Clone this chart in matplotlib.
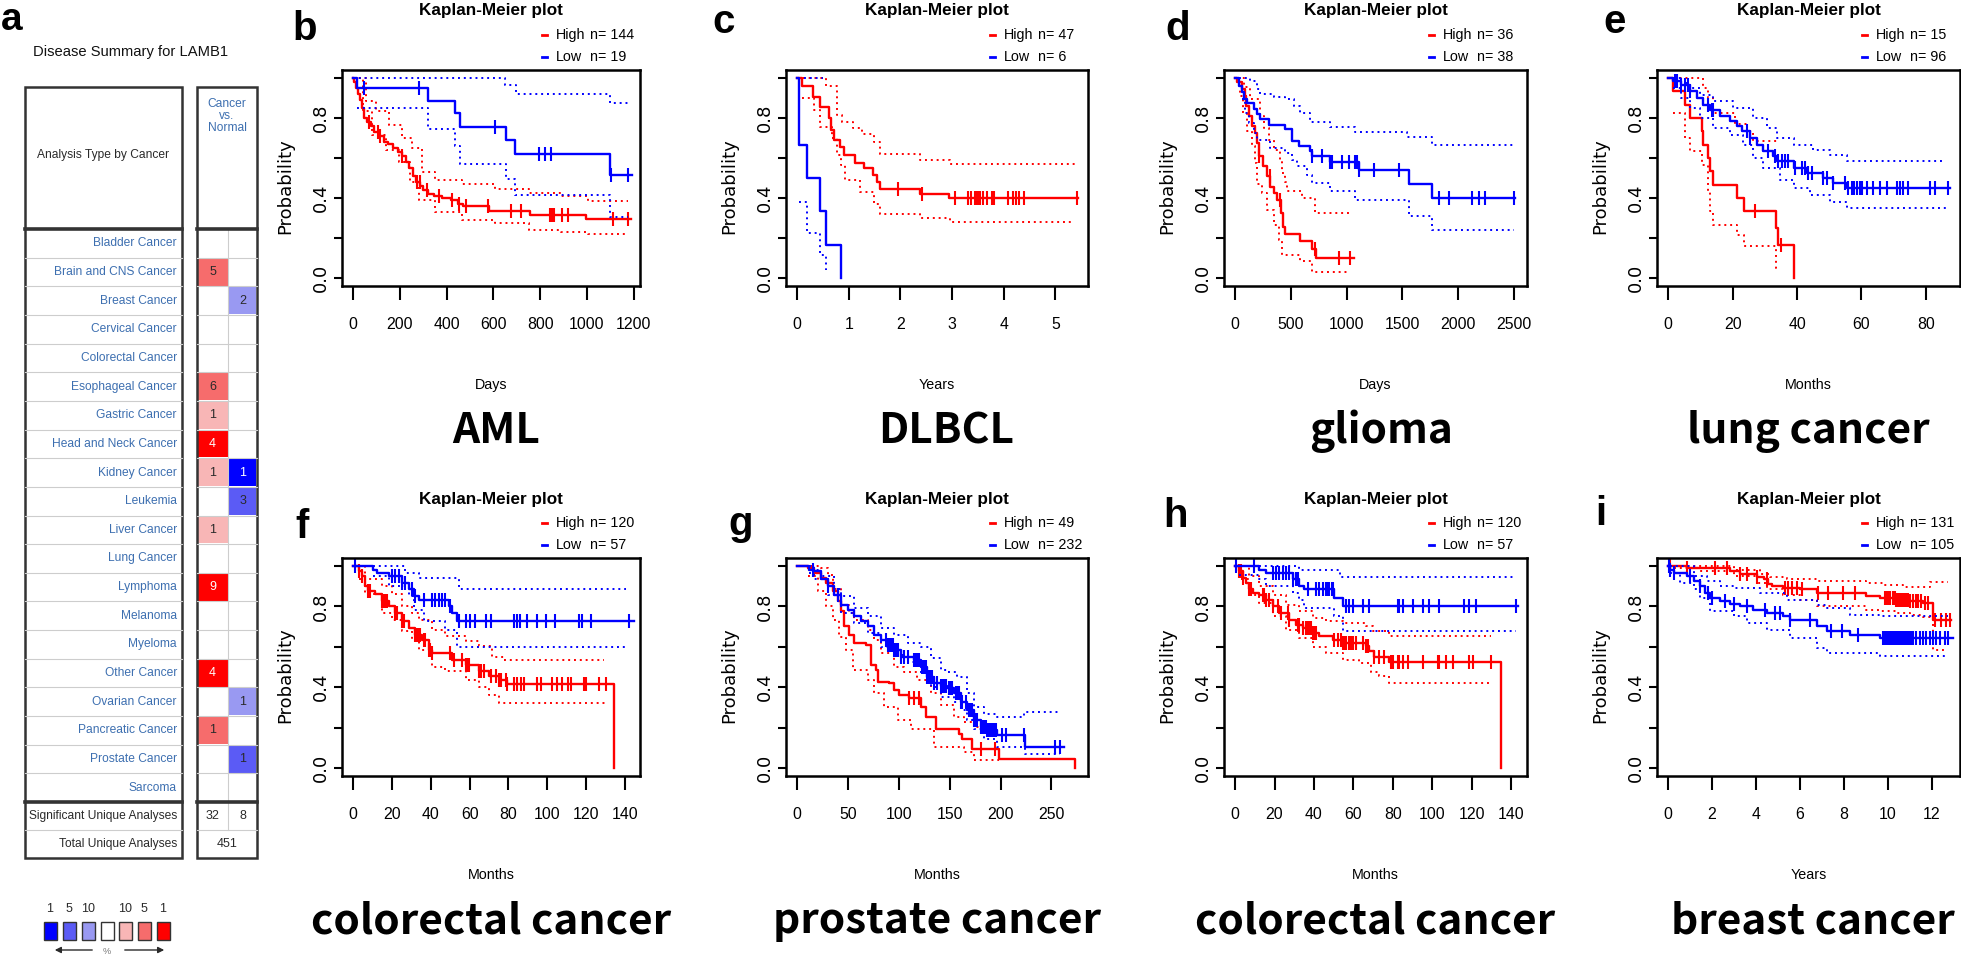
import numpy as np
import matplotlib
matplotlib.use('Agg')
import matplotlib.pyplot as plt
from matplotlib import font_manager
from matplotlib.patches import Rectangle
from matplotlib.lines import Line2D

W, H = 1961, 958
RED, BLUE = '#ff0000', '#0000ff'

_fonts = {f.name for f in font_manager.fontManager.ttflist}
NARROW = 'Liberation Sans Narrow' if 'Liberation Sans Narrow' in _fonts else 'Liberation Sans'
NS = 1.0 if NARROW == 'Liberation Sans Narrow' else 0.82
BIG = 'Noto Sans CJK SC'

# ---------------- panel a: Oncomine disease summary ----------------
cancers = ['Bladder Cancer', 'Brain and CNS Cancer', 'Breast Cancer', 'Cervical Cancer',
           'Colorectal Cancer', 'Esophageal Cancer', 'Gastric Cancer', 'Head and Neck Cancer',
           'Kidney Cancer', 'Leukemia', 'Liver Cancer', 'Lung Cancer', 'Lymphoma', 'Melanoma',
           'Myeloma', 'Other Cancer', 'Ovarian Cancer', 'Pancreatic Cancer', 'Prostate Cancer',
           'Sarcoma']
up_counts = [0, 5, 0, 0, 0, 6, 1, 4, 1, 0, 1, 0, 9, 0, 0, 4, 0, 1, 0, 0]
up_rank = [0, 5, 0, 0, 0, 5, 10, 1, 10, 0, 10, 0, 1, 0, 0, 1, 0, 5, 0, 0]
down_counts = [0, 0, 2, 0, 0, 0, 0, 0, 1, 3, 0, 0, 0, 0, 0, 0, 1, 0, 1, 0]
down_rank = [0, 0, 10, 0, 0, 0, 0, 0, 1, 5, 0, 0, 0, 0, 0, 0, 10, 0, 5, 0]
sig_up, sig_down, total_analyses = 32, 8, 451
legend_blue = [1, 5, 10]
legend_red = [10, 5, 1]
RED_SHADE = {1: '#ff0000', 5: '#f66c6c', 10: '#f8b6b6'}
BLUE_SHADE = {1: '#0000ff', 5: '#5b5bf5', 10: '#9999f2'}

# ---------------- KM curves: (time, survival) step points ----------------
# b  AML (days)
b_high = [(0, 1.0), (5, .98), (12, .95), (20, .92), (28, .89), (38, .85), (48, .80), (60, .78),
          (75, .76), (90, .73), (110, .71), (130, .68), (150, .67), (170, .65), (190, .63),
          (210, .61), (225, .58), (240, .55), (255, .51), (270, .48), (285, .46), (300, .44),
          (320, .42), (345, .41), (380, .40), (420, .39), (450, .37), (470, .36), (580, .335),
          (757, .315), (998, .293), (1190, .293)]
b_high_up = [(0, 1.0), (54, .886), (97, .835), (153, .767), (210, .70), (253, .65), (295, .53),
             (352, .49), (465, .47), (607, .443), (750, .426), (891, .409), (1005, .383), (1176, .383)]
b_high_lo = [(0, 1.0), (40, .835), (82, .715), (139, .64), (196, .58), (245, .48), (281, .39),
             (352, .33), (465, .29), (607, .273), (750, .238), (891, .23), (1005, .22), (1176, .22)]
b_high_cens = [68, 104, 114, 210, 274, 284, 317, 366, 423, 452, 483, 577, 676, 719, 842, 849,
               859, 892, 920, 1112, 1176]
b_low = [(0, 1.0), (18, .95), (321, .886), (435, .823), (459, .756), (655, .69), (693, .622),
         (1100, .516), (1193, .516)]
b_low_up = [(0, 1.0), (650, .963), (696, .92), (1100, .877), (1176, .877)]
b_low_lo = [(18, .85), (321, .746), (435, .66), (459, .57), (655, .494), (693, .417),
            (1100, .307), (1176, .307)]
b_low_cens = [47, 281, 608, 797, 821, 846, 1105, 1176]

# c  DLBCL (years)
c_high = [(0, 1.0), (0.1, .96), (0.3, .905), (0.45, .855), (0.61, .80), (0.66, .74), (0.71, .69),
          (0.82, .656), (0.9, .615), (1.12, .573), (1.3, .548), (1.47, .515), (1.54, .48),
          (1.61, .445), (2.38, .42), (2.94, .40), (5.43, .40)]
c_high_up = [(0, 1.0), (0.55, .96), (0.77, .814), (0.87, .78), (1.09, .75), (1.25, .72),
             (1.48, .68), (1.61, .62), (2.38, .59), (2.96, .568), (5.43, .568)]
c_high_lo = [(0.1, .90), (0.32, .84), (0.45, .756), (0.67, .70), (0.77, .615), (0.84, .565),
             (0.93, .49), (1.22, .43), (1.49, .37), (1.61, .32), (2.38, .30), (2.96, .28), (5.36, .28)]
c_high_cens = [1.96, 2.42, 3.05, 3.31, 3.37, 3.44, 3.47, 3.50, 3.53, 3.60, 3.68, 3.78, 3.82,
               4.08, 4.18, 4.23, 4.29, 4.40, 5.42]
c_low = [(0, 1.0), (0.03, .667), (0.2, .5), (0.45, .333), (0.55, .167), (0.84, 0.0)]
c_low_up = [(0.13, 1.0), (0.5, 1.0)]
c_low_lo = [(0.03, .38), (0.2, .224), (0.45, .116), (0.55, .04), (0.56, .04)]
c_low_cens = []

# d  glioma (days)
d_high = [(0, 1.0), (15, .978), (60, .945), (90, .91), (99, .86), (120, .81), (150, .76),
          (180, .726), (195, .676), (210, .612), (246, .558), (285, .508), (315, .457),
          (345, .424), (375, .39), (411, .323), (429, .255), (444, .222), (585, .185),
          (690, .146), (729, .099), (1064, .099)]
d_high_up = [(15, 1.0), (81, .953), (135, .894), (225, .81), (255, .75), (300, .69), (345, .642),
             (399, .59), (420, .524), (444, .482), (465, .435), (600, .398), (720, .323), (1019, .323)]
d_high_lo = [(15, .978), (45, .91), (75, .827), (105, .735), (150, .66), (180, .575), (195, .47),
             (240, .424), (285, .34), (345, .264), (390, .188), (420, .113), (585, .087),
             (690, .029), (1034, .029)]
d_high_cens = [210, 309, 405, 720, 929, 1034]
d_low = [(0, 1.0), (39, .96), (60, .93), (81, .894), (105, .874), (165, .844), (195, .82),
         (225, .797), (300, .763), (444, .743), (510, .684), (570, .662), (669, .634),
         (690, .608), (855, .58), (1109, .538), (1559, .47), (1769, .40), (2510, .40)]
d_low_up = [(39, 1.0), (135, .987), (195, .945), (225, .92), (345, .907), (450, .894),
            (525, .86), (585, .827), (675, .78), (855, .756), (1079, .73), (1544, .704),
            (1769, .664), (2500, .664)]
d_low_lo = [(60, .894), (90, .827), (120, .776), (165, .726), (195, .69), (315, .65), (450, .625),
            (510, .59), (555, .558), (645, .516), (690, .474), (855, .437), (1079, .39),
            (1559, .31), (1769, .239), (2500, .239)]
d_low_cens = [690, 780, 855, 870, 960, 1019, 1079, 1094, 1109, 1244, 1469, 1829, 1919, 2128,
              2188, 2239, 2500]

# e  lung cancer (months)
e_high = [(0, 1.0), (1.55, .933), (5.2, .867), (6.9, .80), (10.4, .733), (10.9, .667),
          (12.4, .60), (12.9, .533), (14, .467), (21.2, .40), (23.6, .333), (33.5, .25),
          (34.2, .167), (39.2, 0.0)]
e_high_up = [(0, 1.0), (10.9, .95), (12.4, .9), (14, .825), (20.7, .77), (24.3, .733),
             (26.4, .683), (33.7, .683)]
e_high_lo = [(1.55, .825), (5.2, .70), (6.9, .633), (10.4, .567), (12.4, .433), (12.9, .333),
             (14, .267), (21.2, .217), (23.6, .158), (33.5, .05), (34.5, .05)]
e_high_cens = [26.9, 35.0]
e_low = [(0, 1.0), (1.55, .983), (4.1, .963), (6.7, .933), (8.8, .9), (10.9, .867), (12.9, .842),
         (16.1, .808), (19.2, .783), (21.2, .758), (22.8, .733), (25.4, .70), (27.5, .667),
         (29.5, .633), (32.6, .608), (33.7, .583), (38.9, .55), (43, .525), (48.2, .50),
         (51.3, .475), (55.4, .45), (87.5, .45)]
e_low_up = [(1.55, 1.0), (4.1, .975), (6.7, .95), (9.8, .917), (14, .883), (20.2, .85),
            (26.4, .80), (30.6, .75), (33.7, .70), (38.9, .667), (45.1, .642), (50.3, .617),
            (55.4, .587), (86, .587)]
e_low_lo = [(1.55, .95), (4.1, .9), (6.7, .85), (9.8, .8), (14, .75), (19.2, .717), (23.3, .667),
            (26.4, .6), (29.5, .55), (34.7, .49), (38.9, .45), (44, .417), (50.3, .38),
            (55.4, .35), (87, .35)]
e_low_cens = [2.1, 2.6, 4.1, 5.2, 6.2, 6.7, 12.4, 13.5, 14, 24.3, 25.4, 31.1, 33.2, 34.2, 35.2,
              36.3, 37.3, 39.4, 41.4, 42.5, 43.5, 44.5, 48.2, 49.2, 51.3, 54.9, 55.9, 57, 57.7,
              58.5, 59.4, 60.1, 61.6, 63.7, 65.8, 67.9, 71, 72, 73, 74.3, 81.3, 82.9, 87]

# f  colorectal cancer (months)
f_high = [(0, 1.0), (2.8, .975), (4.5, .95), (6.2, .9), (7.9, .876), (11.4, .86), (14.8, .826),
          (18.3, .80), (21.7, .768), (25.1, .726), (28.6, .693), (32, .66), (35.5, .635),
          (38.9, .585), (40.6, .57), (51, .536), (57.9, .51), (64.7, .478), (69.9, .453),
          (75.1, .436), (79.4, .416), (134.5, 0.0)]
f_high_up = [(0, 1.0), (6.2, .934), (14.8, .9), (20, .86), (25.1, .8), (30.3, .768), (33.8, .735),
             (40.6, .685), (47.5, .652), (57.9, .627), (64.7, .602), (71.6, .552), (77.5, .536),
             (129.2, .536)]
f_high_lo = [(2.8, .934), (6.2, .86), (14.8, .768), (20, .735), (25.1, .677), (30.3, .635),
             (33.8, .585), (40.6, .502), (47.5, .478), (57.9, .436), (64.7, .403), (69.9, .36),
             (75.1, .323), (130.2, .323)]
f_high_cens = [2.8, 4.5, 7.9, 8.8, 14.8, 15.7, 16.5, 17.4, 21.7, 22.6, 25.1, 26, 32, 32.9, 33.8,
               34.6, 36.3, 37.2, 38.9, 39.8, 40.6, 50.1, 51.8, 56.1, 57.9, 58.7, 59.6, 64.7, 65.6,
               67.3, 70.8, 73.4, 75.1, 75.9, 78.5, 79.4, 82.8, 84.6, 86.3, 88, 94.9, 96.6, 102.6,
               105.2, 107.8, 110.4, 112.1, 119, 119.9, 126.7, 130.2]
f_low = [(0, 1.0), (10.5, .983), (12.2, .967), (18.3, .95), (25.1, .917), (28.6, .884),
         (31.2, .85), (33.8, .83), (49.2, .80), (51, .768), (53.6, .726), (144.8, .726)]
f_low_up = [(10.5, 1.0), (26.9, .967), (33.8, .942), (54.4, .884), (140.5, .884)]
f_low_lo = [(10.5, .95), (18.3, .9), (28.6, .85), (31.2, .784), (36.3, .726), (47.5, .685),
            (53.6, .597), (141.3, .597)]
f_low_cens = [1, 20, 21.7, 23.4, 25.1, 26.9, 30.3, 32, 36.3, 40.6, 42.4, 44.1, 45.8, 47.5, 50.1,
              54.4, 57.9, 60.4, 63, 68.2, 70.8, 82.8, 84.6, 85.8, 89.7, 94.9, 99.2, 104, 116.4,
              118.1, 122.4, 142.2]

# g  prostate cancer (months)
g_high = [(0, 1.0), (10.5, .992), (17, .967), (23.5, .942), (28.4, .917), (35, .875),
          (39.9, .826), (43.1, .776), (46.4, .701), (51.3, .659), (56.2, .618), (67.6, .61),
          (72.5, .51), (77.5, .485), (79.1, .427), (90.5, .419), (95.4, .385), (100.3, .36),
          (110.1, .344), (121.6, .302), (126.5, .252), (136.3, .194), (159.2, .169),
          (162.4, .145), (172.2, .095), (198.4, .045), (273.5, 0.0)]
g_high_up = [(7.2, 1.0), (23.5, .992), (30.1, .958), (35, .884), (43.1, .809), (51.3, .767),
             (56.2, .734), (69.3, .684), (75.8, .635), (82.3, .568), (95.4, .502), (105.2, .477),
             (118.3, .435), (131.4, .369), (141.2, .31), (154.2, .252), (164.1, .228),
             (173.9, .203), (196.7, .203)]
g_high_lo = [(10.5, .95), (20.3, .875), (28.4, .8), (35, .734), (41.5, .651), (48, .585),
             (54.6, .485), (69.3, .435), (75.8, .369), (85.6, .302), (98.7, .236), (111.8, .194),
             (134.6, .103), (164.1, .078), (173.9, .037), (198.4, .037)]
g_high_cens = [110.1, 115, 120, 180.4, 194.1]
g_low = [(0, 1.0), (12.1, .983), (17, .975), (23.5, .934), (30.1, .9), (36.6, .859), (43.1, .809),
         (49.7, .784), (56.2, .751), (62.7, .726), (69.3, .701), (75.8, .659), (82.3, .635),
         (88.9, .61), (95.4, .585), (101.9, .551), (115, .535), (121.6, .502), (128.1, .452),
         (134.6, .419), (141.2, .405), (147.7, .394), (154.2, .369), (160.8, .327),
         (167.3, .286), (173.9, .236), (180.4, .203), (186.9, .186), (196.7, .161),
         (224.5, .103), (262, .103)]
g_low_up = [(12.1, 1.0), (17, .983), (23.5, .95), (36.6, .884), (43.1, .85), (56.2, .792),
            (69.3, .751), (82.3, .693), (95.4, .659), (108.5, .618), (121.6, .601), (131.4, .543),
            (141.2, .485), (147.7, .477), (157.5, .452), (167.3, .369), (173.9, .302),
            (183.7, .269), (196.7, .252), (222.9, .277), (258.8, .277)]
g_low_lo = [(12.1, .967), (17, .934), (30.1, .859), (43.1, .767), (56.2, .718), (69.3, .668),
            (82.3, .601), (95.4, .56), (108.5, .527), (121.6, .468), (131.4, .402), (141.2, .352),
            (154.2, .327), (160.8, .286), (167.3, .236), (173.9, .194), (183.7, .145),
            (196.7, .103), (224.5, .07), (258.8, .07)]
g_low_cens = [15.4, 30.1, 39.9, 87.3, 88.9, 90.5, 92.2, 93.8, 95.4, 97.1, 98.7, 102, 105.2, 108.5,
              115, 116.7, 118.3, 119.9, 123.2, 124.8, 126.5, 128.1, 129.7, 131.4, 133, 134.6,
              137.9, 141.2, 142.8, 144.4, 146.1, 149.3, 151, 152.6, 155.9, 157.5, 159.2, 160.8,
              162.4, 165.7, 169, 170.6, 172.2, 173.9, 175.5, 177.1, 180.4, 182, 183.7, 185.3,
              186.9, 188.6, 190.2, 191.8, 193.5, 195.1, 201.6, 204.9, 222.9, 253.9, 258.8]

# h  colorectal cancer (months)
h_high = [(0, 1.0), (2.2, .975), (3.9, .942), (5.6, .917), (7.3, .884), (9, .867), (12.3, .859),
          (15.7, .834), (19.1, .80), (22.5, .768), (27.5, .735), (30.9, .71), (34.3, .693),
          (39.4, .668), (42.8, .655), (49.5, .635), (54.6, .619), (66.4, .602), (68.1, .577),
          (70.6, .552), (78.2, .527), (134.9, 0.0)]
h_high_up = [(2.2, 1.0), (7.3, .95), (12.3, .9), (19.1, .859), (25.9, .809), (32.6, .776),
             (39.4, .743), (46.1, .726), (54.6, .718), (66.4, .701), (69.8, .677), (78.2, .655),
             (129.8, .655)]
h_high_lo = [(3, .934), (7.3, .859), (12.3, .816), (19.1, .751), (25.9, .685), (32.6, .643),
             (39.4, .6), (46.1, .569), (54.6, .536), (63, .519), (68.9, .476), (73.2, .453),
             (78.2, .42), (129.8, .42)]
h_high_cens = [2.2, 3, 3.9, 7.3, 8.1, 14, 14.9, 15.7, 17.4, 19.1, 21.6, 23.3, 26.7, 27.5, 31.8,
               32.6, 34.3, 36, 36.8, 37.7, 38.5, 39.4, 40.2, 41.1, 50.4, 52.1, 53.7, 54.6, 55.4,
               56.3, 58, 58.8, 59.7, 61.3, 64.7, 66.4, 67.3, 70.6, 73.2, 75.7, 79.1, 79.9, 82.5,
               83.3, 85, 87.5, 95.1, 102.8, 103.6, 107, 110.4, 118.8, 120.5, 129.8]
h_low = [(0, 1.0), (12.3, .983), (15.7, .967), (29.2, .934), (32.6, .9), (35.2, .884),
         (50.4, .842), (54.6, .80), (143.3, .80)]
h_low_up = [(12.3, 1.0), (32.6, .983), (53.2, .947), (142.5, .947)]
h_low_lo = [(2.2, .958), (12.3, .934), (15.7, .9), (29.2, .867), (32.6, .834), (35.2, .793),
            (50.4, .751), (54.6, .677), (142.5, .677)]
h_low_cens = [0.5, 9.8, 19.1, 20.8, 22.5, 24.2, 25.9, 27.5, 29.2, 30.9, 31.8, 36.8, 41.1, 42.8,
              44.4, 46.1, 47, 47.8, 49.2, 49.9, 56.3, 58, 59.7, 64.7, 68.1, 82.5, 83.3, 85, 90.1,
              95.1, 98.5, 103.6, 116.3, 118.8, 122.2, 142.5]

# i  breast cancer (years)
i_high = [(0, 1.0), (0.86, .992), (2.83, .975), (3.28, .959), (4.03, .947), (4.34, .934),
          (4.56, .909), (4.71, .9), (5.24, .892), (6.0, .884), (6.75, .867), (9.02, .851),
          (9.63, .842), (10.38, .834), (10.99, .826), (11.59, .816), (12.04, .735), (12.87, .735)]
i_high_up = [(0.11, 1.0), (2.98, .983), (4.18, .959), (4.64, .947), (5.39, .934), (6.75, .926),
             (9.02, .914), (9.78, .904), (10.68, .897), (11.89, .922), (12.72, .922)]
i_high_lo = [(0.26, .99), (1.47, .975), (2.98, .95), (4.03, .917), (4.49, .884), (5.24, .859),
             (6.0, .834), (6.75, .804), (9.02, .784), (9.63, .776), (10.38, .768), (10.99, .759),
             (11.59, .75), (12.04, .585), (12.65, .585)]
i_high_cens = [0.11, 0.86, 2.15, 2.67, 3.28, 3.58, 4.03, 4.49, 5.32, 5.47, 5.62, 5.85, 6.07, 6.83,
               7.28, 7.96, 8.49, 9.85, 9.93, 10, 10.08, 10.23, 10.31, 10.38, 10.46, 10.53, 10.61,
               10.68, 10.76, 10.83, 10.91, 10.99, 11.14, 11.29, 11.36, 11.51, 11.66, 11.82,
               12.12, 12.42, 12.65, 12.8]
i_low = [(0, 1.0), (0.1, .983), (0.26, .967), (0.86, .95), (1.16, .926), (1.47, .9), (1.69, .867),
         (1.92, .842), (2.37, .826), (2.83, .814), (3.28, .801), (3.88, .784), (4.49, .768),
         (5.24, .751), (5.55, .735), (6.75, .701), (7.21, .677), (8.27, .66), (9.63, .643),
         (12.95, .643)]
i_low_up = [(0.1, 1.0), (1.16, .95), (1.77, .926), (2.37, .9), (2.98, .892), (4.18, .867),
            (5.39, .834), (6.75, .809), (7.21, .793), (8.27, .759), (9.63, .751), (12.72, .751)]
i_low_lo = [(0.1, .967), (0.56, .917), (1.16, .884), (1.47, .842), (1.92, .776), (2.98, .751),
            (3.58, .718), (4.49, .685), (5.55, .643), (6.75, .592), (7.21, .569), (9.63, .556),
            (12.65, .556)]
i_low_cens = [0.03, 0.11, 0.26, 1.01, 1.47, 1.84, 1.99, 2.6, 2.98, 3.58, 4.41, 4.87, 5.09, 5.55,
              6.45, 7.43, 7.93, 8.64, 9.78, 9.85, 9.93, 10.0, 10.08, 10.16, 10.23, 10.31, 10.38,
              10.46, 10.53, 10.61, 10.68, 10.76, 10.83, 10.91, 10.99, 11.06, 11.14, 11.29, 11.44,
              11.59, 11.74, 11.89, 12.04, 12.19, 12.34, 12.57, 12.72]

n_high = {'b': 144, 'c': 47, 'd': 36, 'e': 15, 'f': 120, 'g': 49, 'h': 120, 'i': 131}
n_low = {'b': 19, 'c': 6, 'd': 38, 'e': 96, 'f': 57, 'g': 232, 'h': 57, 'i': 105}

# ---------------- layout (pixels) ----------------
COLS = [(342, 640), (786, 1088), (1224, 1527), (1657, 1960)]
ROWS = [(70, 286), (558, 776)]

fig = plt.figure(figsize=(W / 100, H / 100), dpi=100)
fig.patch.set_facecolor('white')


def ftext(x, y, s, **kw):
    return fig.text(x / W, 1 - y / H, s, **kw)


def draw_group(ax, curve, up, lo, cens, color):
    t, s = map(np.array, zip(*curve))
    for band in (up, lo):
        bt, bs = zip(*band)
        ax.step(bt, bs, where='post', color=color, lw=1.4, ls=(0, (1, 2)))
    ax.step(t, s, where='post', color=color, lw=1.7)
    if cens:
        ct = np.array(cens)
        cy = s[np.searchsorted(t, ct, side='right') - 1]
        ax.plot(ct, cy, ls='none', marker='|', ms=10, mew=1.5, color=color)


def km_panel(key, col, row, letter_xy, label, unit, xlim, xticks, high, low, label_dx=0):
    x0, x1 = COLS[col]
    y0, y1 = ROWS[row]
    ax = fig.add_axes([x0 / W, 1 - y1 / H, (x1 - x0) / W, (y1 - y0) / H])
    draw_group(ax, *high, RED)
    draw_group(ax, *low, BLUE)
    ax.set_xlim(*xlim)
    ax.set_ylim(-0.04, 1.04)
    ax.set_xticks(xticks)
    ax.set_xticklabels([str(v) for v in xticks], family=NARROW, fontsize=14 * NS)
    ax.set_yticks([0, 0.2, 0.4, 0.6, 0.8, 1.0])
    ax.set_yticklabels(['0.0', '', '0.4', '', '0.8', ''], family='DejaVu Sans', fontsize=13,
                       rotation=90, va='center')
    ax.tick_params(axis='x', length=10, width=1.5, pad=12)
    ax.tick_params(axis='y', length=6, width=1.5, pad=3)
    for sp in ax.spines.values():
        sp.set_linewidth(1.8)
    cx = (x0 + x1) / 2
    ftext(x0 - 57, (y0 + y1) / 2 + 8, 'Probability', rotation=90, ha='center', va='center',
          family='DejaVu Sans', fontsize=13)
    ftext(cx, y0 - 59, 'Kaplan-Meier plot', ha='center', va='center', family=NARROW,
          fontweight='bold', fontsize=15 * NS)
    for dy, name, n, color in ((35, 'High', n_high[key], RED), (13, 'Low', n_low[key], BLUE)):
        yy = 1 - (y0 - dy) / H
        fig.add_artist(Line2D([(x1 - 98) / W, (x1 - 93) / W], [yy, yy], color=color, lw=2))
        ftext(x1 - 84, y0 - dy, name, va='center', family=NARROW, fontsize=12.5 * NS)
        ftext(x1 - 50, y0 - dy, 'n= %d' % n, va='center', family=NARROW, fontsize=12.5 * NS)
    ftext(cx, y1 + 99, unit, ha='center', va='center', family=NARROW, fontsize=12.5 * NS)
    ftext(cx + label_dx, y1 + 157, label, ha='center', va='baseline', family=BIG,
          fontweight='bold', fontsize=30.5)
    ftext(letter_xy[0], letter_xy[1], key, va='baseline', family='Liberation Sans',
          fontweight='bold', fontsize=29)


km_panel('b', 0, 0, (292, 40), 'AML', 'Days', (-48, 1227), list(range(0, 1201, 200)),
         (b_high, b_high_up, b_high_lo, b_high_cens), (b_low, b_low_up, b_low_lo, b_low_cens), 5)
km_panel('c', 1, 0, (712, 33), 'DLBCL', 'Years', (-0.216, 5.63), [0, 1, 2, 3, 4, 5],
         (c_high, c_high_up, c_high_lo, c_high_cens), (c_low, c_low_up, c_low_lo, c_low_cens), 9)
km_panel('d', 2, 0, (1165, 40), 'glioma', 'Days', (-100, 2620), list(range(0, 2501, 500)),
         (d_high, d_high_up, d_high_lo, d_high_cens), (d_low, d_low_up, d_low_lo, d_low_cens), 6)
km_panel('e', 3, 0, (1603, 33), 'lung cancer', 'Months', (-3.5, 90.6), [0, 20, 40, 60, 80],
         (e_high, e_high_up, e_high_lo, e_high_cens), (e_low, e_low_up, e_low_lo, e_low_cens))
km_panel('f', 0, 1, (295, 538), 'colorectal cancer', 'Months', (-5.7, 147.7),
         list(range(0, 141, 20)),
         (f_high, f_high_up, f_high_lo, f_high_cens), (f_low, f_low_up, f_low_lo, f_low_cens))
km_panel('g', 1, 1, (728, 535), 'prostate cancer', 'Months', (-11, 286), list(range(0, 251, 50)),
         (g_high, g_high_up, g_high_lo, g_high_cens), (g_low, g_low_up, g_low_lo, g_low_cens))
km_panel('h', 2, 1, (1163, 527), 'colorectal cancer', 'Months', (-5.6, 148),
         list(range(0, 141, 20)),
         (h_high, h_high_up, h_high_lo, h_high_cens), (h_low, h_low_up, h_low_lo, h_low_cens))
km_panel('i', 3, 1, (1595, 525), 'breast cancer', 'Years', (-0.5, 13.27), list(range(0, 13, 2)),
         (i_high, i_high_up, i_high_lo, i_high_cens), (i_low, i_low_up, i_low_lo, i_low_cens), 4)

# ---------------- panel a drawing ----------------
axa = fig.add_axes([0, 0, 270 / W, 1])
axa.set_xlim(0, 270)
axa.set_ylim(H, 0)
axa.axis('off')
LINK = '#3d6fb0'
DARK = '#2a2a2a'
axa.text(1, 30, 'a', family='Liberation Sans', fontweight='bold', fontsize=28, va='baseline')
axa.text(33, 52, 'Disease Summary for LAMB1', family=NARROW, fontsize=13 * NS, va='center',
         color='#111')

TOP, HEAD, ROW_H = 87, 229, 28.65
LX0, LX1, RX0, RX1, RMID = 25, 182, 197, 257, 228
body_end = HEAD + len(cancers) * ROW_H
SUM_H = 28
tab_end = body_end + 2 * SUM_H

for i, name in enumerate(cancers):
    ytop = HEAD + i * ROW_H
    yc = ytop + ROW_H / 2
    if i > 0:
        axa.plot([LX0, LX1], [ytop, ytop], color='#cdcdcd', lw=0.8)
        axa.plot([RX0, RX1], [ytop, ytop], color='#cdcdcd', lw=0.8)
    axa.text(177, yc, name, ha='right', va='center', color=LINK, family=NARROW, fontsize=10.5 * NS)
    if up_counts[i]:
        axa.add_patch(Rectangle((RX0 + 1, ytop + 0.8), RMID - RX0 - 1.5, ROW_H - 1.6,
                                color=RED_SHADE[up_rank[i]], lw=0))
        axa.text((RX0 + RMID) / 2, yc, str(up_counts[i]), ha='center', va='center',
                 color='white' if up_rank[i] == 1 else DARK, family=NARROW, fontsize=11 * NS)
    if down_counts[i]:
        axa.add_patch(Rectangle((RMID + 0.5, ytop + 0.8), RX1 - RMID - 1.5, ROW_H - 1.6,
                                color=BLUE_SHADE[down_rank[i]], lw=0))
        axa.text((RMID + RX1) / 2, yc, str(down_counts[i]), ha='center', va='center',
                 color='white' if down_rank[i] == 1 else DARK, family=NARROW, fontsize=11 * NS)

axa.plot([RMID, RMID], [HEAD, body_end + SUM_H], color='#cdcdcd', lw=0.8)
axa.plot([LX0, LX1], [body_end + SUM_H] * 2, color='#cdcdcd', lw=0.8)
axa.plot([RX0, RX1], [body_end + SUM_H] * 2, color='#cdcdcd', lw=0.8)
for xa, xb in ((LX0, LX1), (RX0, RX1)):
    axa.add_patch(Rectangle((xa, TOP), xb - xa, tab_end - TOP, fill=False, ec='#333', lw=1.8))
    axa.plot([xa, xb], [HEAD, HEAD], color='#333', lw=2.6)
    axa.plot([xa, xb], [body_end, body_end], color='#333', lw=2.6)

axa.text((LX0 + LX1) / 2, 155, 'Analysis Type by Cancer', ha='center', va='center', color=DARK,
         family=NARROW, fontsize=10.5 * NS)
axa.text((RX0 + RX1) / 2, 116, 'Cancer\nvs.\nNormal', ha='center', va='center', color=LINK,
         family=NARROW, fontsize=10.5 * NS, linespacing=0.95)
axa.text(177, body_end + SUM_H / 2, 'Significant Unique Analyses', ha='right', va='center',
         color=DARK, family=NARROW, fontsize=10.5 * NS)
axa.text(177, body_end + 1.5 * SUM_H, 'Total Unique Analyses', ha='right', va='center',
         color=DARK, family=NARROW, fontsize=10.5 * NS)
axa.text((RX0 + RMID) / 2, body_end + SUM_H / 2, str(sig_up), ha='center', va='center',
         color=DARK, family=NARROW, fontsize=11 * NS)
axa.text((RMID + RX1) / 2, body_end + SUM_H / 2, str(sig_down), ha='center', va='center',
         color=DARK, family=NARROW, fontsize=11 * NS)
axa.text((RX0 + RX1) / 2, body_end + 1.5 * SUM_H, str(total_analyses), ha='center',
         va='center', color=DARK, family=NARROW, fontsize=11 * NS)

# colour key
key_x = [50, 69, 88, 107, 125, 144, 163]
key_cols = [BLUE_SHADE[r] for r in legend_blue] + ['white'] + [RED_SHADE[r] for r in legend_red]
key_labs = [str(r) for r in legend_blue] + [''] + [str(r) for r in legend_red]
for kx, kc, kl in zip(key_x, key_cols, key_labs):
    axa.add_patch(Rectangle((kx - 6.5, 922), 13, 18, fc=kc, ec='#333', lw=1))
    axa.text(kx, 909, kl, ha='center', va='center', color=DARK, family=NARROW, fontsize=11 * NS)
axa.annotate('', xy=(52, 950), xytext=(95, 950),
             arrowprops=dict(arrowstyle='-|>', color=DARK, lw=1, mutation_scale=9))
axa.annotate('', xy=(167, 950), xytext=(122, 950),
             arrowprops=dict(arrowstyle='-|>', color=DARK, lw=1, mutation_scale=9))
axa.text(107, 951, '%', ha='center', va='center', color='#777', family=NARROW, fontsize=8 * NS)

fig.savefig('out.png', dpi=100, facecolor='white')
